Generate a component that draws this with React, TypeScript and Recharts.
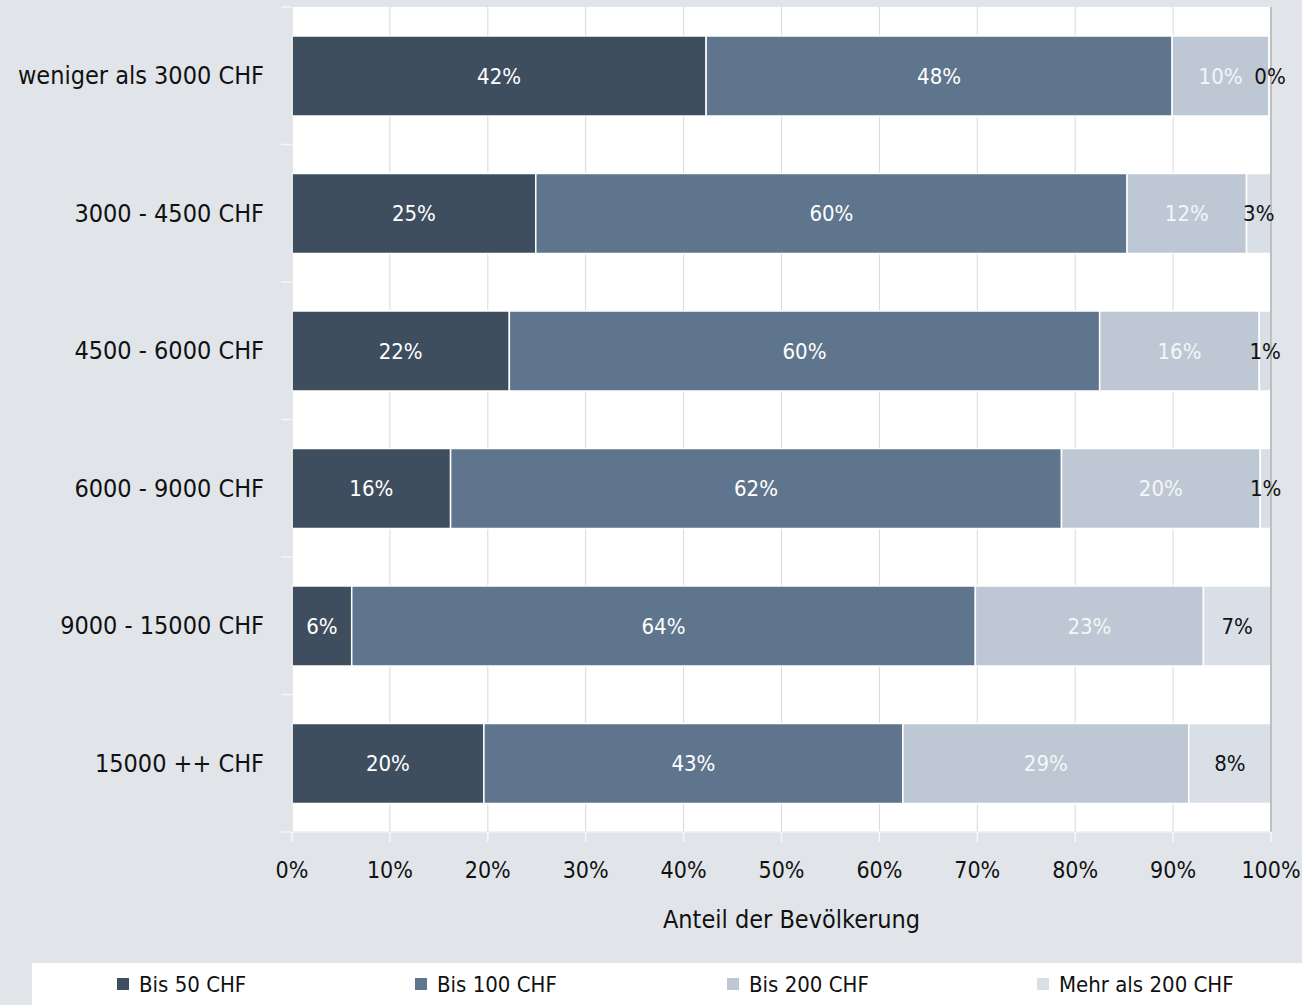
import React from 'react';
import { BarChart, Bar, XAxis, YAxis, CartesianGrid, Legend, LabelList, ReferenceLine } from 'recharts';

const categories = [
  'weniger als 3000 CHF',
  '3000 - 4500 CHF',
  '4500 - 6000 CHF',
  '6000 - 9000 CHF',
  '9000 - 15000 CHF',
  '15000 ++ CHF',
];
const bis50 = [42.3, 24.9, 22.2, 16.2, 6.1, 19.6];
const bis100 = [47.6, 60.4, 60.3, 62.4, 63.7, 42.8];
const bis200 = [9.9, 12.2, 16.3, 20.3, 23.3, 29.2];
const mehr200 = [0.2, 2.5, 1.2, 1.1, 6.9, 8.4];
const seriesNames = ['Bis 50 CHF', 'Bis 100 CHF', 'Bis 200 CHF', 'Mehr als 200 CHF'];
const seriesKeys = ['s1', 's2', 's3', 's4'];
const seriesColors = ['#3f4e5f', '#5f758d', '#bec8d4', '#d9dfe7'];
const labelColors = ['#ffffff', '#ffffff', '#f4f6f8', '#111111'];
const xTicks = [0, 10, 20, 30, 40, 50, 60, 70, 80, 90, 100];
const xTitle = 'Anteil der Bevölkerung';

const data = categories.map((name, i) => ({
  name,
  s1: bis50[i],
  s2: bis100[i],
  s3: bis200[i],
  s4: mehr200[i],
}));

const FONT = '"Liberation Sans Narrow", "Arial Narrow", "DejaVu Sans Condensed", sans-serif';
const BG = '#e1e5ea';
const CHART_W = 1302;
const CHART_H = 1005;
const MARGIN = { top: 7, right: 31, bottom: 31, left: 0 };
const X_AXIS_H = 100;
const LEGEND_H = 42;
const PLOT_H = CHART_H - MARGIN.top - MARGIN.bottom - X_AXIS_H - LEGEND_H;
const BAND = PLOT_H / categories.length;

const fmt = (v: any) => `${Math.round(Number(v))}%`;

const YTick = (props: any) => {
  const { x, y, payload, index } = props;
  return (
    <g>
      <line x1={x + 28 - 11} x2={x + 28} y1={y - BAND / 2} y2={y - BAND / 2} stroke="#f5f6f8" strokeWidth={1.5} />
      {index === categories.length - 1 && (
        <line x1={x + 28 - 11} x2={x + 28} y1={y + BAND / 2} y2={y + BAND / 2} stroke="#f5f6f8" strokeWidth={1.5} />
      )}
      <text x={x} y={y} textAnchor="end" dominantBaseline="central" fill="#111" fontSize={25} fontFamily={FONT}>
        {payload.value}
      </text>
    </g>
  );
};

const LegendContent = () => (
  <div style={{ display: 'flex', height: 42, alignItems: 'center', fontFamily: FONT, fontSize: 22, color: '#111' }}>
    {seriesNames.map((n, i) => (
      <div key={n} style={{ display: 'flex', alignItems: 'center', position: 'absolute', left: [85, 383, 695, 1005][i] }}>
        <span style={{ display: 'inline-block', width: 12, height: 12, background: seriesColors[i], marginRight: 10 }} />
        <span>{n}</span>
      </div>
    ))}
  </div>
);

export default function App() {
  return (
    <div style={{ position: 'absolute', left: 0, top: 0, width: CHART_W, height: CHART_H, background: BG }}>
      <BarChart
        width={CHART_W}
        height={CHART_H}
        data={data}
        layout="vertical"
        margin={MARGIN}
        style={{ fontFamily: FONT }}
      >
        <CartesianGrid horizontal={false} stroke="#d9d9d9" fill="#ffffff" />
        <XAxis
          type="number"
          domain={[0, 100]}
          ticks={xTicks}
          tickFormatter={(v) => `${v}%`}
          interval={0}
          height={X_AXIS_H}
          axisLine={{ stroke: '#eceef1', strokeWidth: 1.5 }}
          tickLine={{ stroke: '#f7f8fa', strokeWidth: 1.5 }}
          tickSize={10}
          tickMargin={20}
          tick={{ fill: '#111', fontSize: 23, fontFamily: FONT }}
          label={{ value: xTitle, position: 'insideBottom', offset: 4, dx: 10, fill: '#111', fontSize: 25, fontFamily: FONT }}
        />
        <XAxis
          xAxisId="top"
          orientation="top"
          type="number"
          domain={[0, 100]}
          height={0}
          tick={false}
          tickLine={false}
          axisLine={{ stroke: '#c6c6c6', strokeWidth: 1.5 }}
        />
        <YAxis
          type="category"
          dataKey="name"
          width={292}
          axisLine={{ stroke: '#e4e6e9', strokeWidth: 1.5 }}
          tickLine={false}
          tickSize={0}
          tickMargin={28}
          tick={<YTick />}
        />
        <ReferenceLine x={100} stroke="#bfbfbf" strokeWidth={2} />
        {seriesKeys.map((k, i) => (
          <Bar
            key={k}
            dataKey={k}
            name={seriesNames[i]}
            stackId="a"
            fill={seriesColors[i]}
            stroke="#ffffff"
            strokeWidth={1.5}
            barSize={80}
            isAnimationActive={false}
          >
            <LabelList
              dataKey={k}
              position="center"
              formatter={fmt}
              fill={labelColors[i]}
              style={{ fontSize: 22, fontFamily: FONT }}
            />
          </Bar>
        ))}
        <Legend
          content={<LegendContent />}
          wrapperStyle={{ position: 'absolute', left: 32, top: 963, width: 1270, height: LEGEND_H, background: '#ffffff' }}
        />
      </BarChart>
    </div>
  );
}
